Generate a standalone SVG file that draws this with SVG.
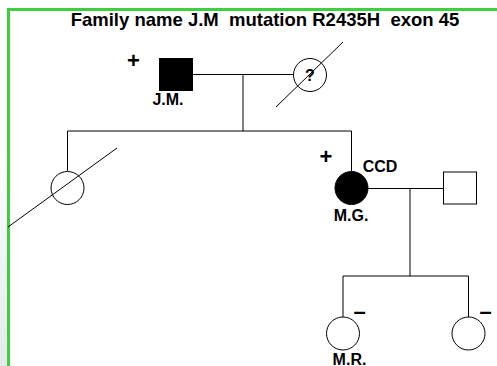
<svg xmlns="http://www.w3.org/2000/svg" width="497" height="366" viewBox="0 0 497 366">
<defs>
<style>
.t{font-family:"Liberation Sans",Arial,sans-serif;font-weight:bold;fill:#000}
.lb{font-size:16px}
.pl{font-size:22px}
.mi{font-size:22px}
.ln{stroke:#000;stroke-width:1;fill:none}
.sym{stroke:#000;stroke-width:1;fill:#fff}
.aff{stroke:#000;stroke-width:1;fill:#000}
</style>
<linearGradient id="g" x1="0" y1="0" x2="0" y2="1">
<stop offset="0" stop-color="#ffffff"/>
<stop offset="1" stop-color="#e6e8ec"/>
</linearGradient>
</defs>
<rect x="0" y="0" width="497" height="366" fill="#fff"/>
<rect x="0" y="150" width="7" height="216" fill="url(#g)"/>
<path d="M8.5,366 V9.5 H497" fill="none" stroke="#3ecf3e" stroke-width="3"/>
<text class="t" x="265" y="26" font-size="18.5" text-anchor="middle" xml:space="preserve">Family name J.M  mutation R2435H  exon 45</text>
<g id="connectors">
<line class="ln" x1="193" y1="74.5" x2="293" y2="74.5"/>
<line class="ln" x1="243" y1="74.5" x2="243" y2="131"/>
<line class="ln" x1="67.5" y1="131" x2="351.5" y2="131"/>
<line class="ln" x1="67.5" y1="131" x2="67.5" y2="171"/>
<line class="ln" x1="351.5" y1="131" x2="351.5" y2="171"/>
<line class="ln" x1="368" y1="188.5" x2="443" y2="188.5"/>
<line class="ln" x1="410" y1="188.5" x2="410" y2="276"/>
<line class="ln" x1="343" y1="276" x2="468.5" y2="276"/>
<line class="ln" x1="343" y1="276" x2="343" y2="317"/>
<line class="ln" x1="468.5" y1="276" x2="468.5" y2="317"/>
</g>
<g id="jm">
<rect class="aff" x="159.5" y="58.5" width="33" height="32"/>
<text class="t pl" x="133.5" y="68" text-anchor="middle">+</text>
<text class="t lb" x="168" y="105" text-anchor="middle">J.M.</text>
</g>
<g id="wife">
<circle class="sym" cx="310" cy="75" r="16.5"/>
<text class="t" x="310" y="81" font-size="16" text-anchor="middle">?</text>
<line class="ln" x1="276" y1="107" x2="343" y2="42"/>
</g>
<g id="daughter1">
<circle class="sym" cx="67.5" cy="188" r="16.5"/>
<line class="ln" x1="8" y1="227" x2="117" y2="148"/>
</g>
<g id="mg">
<circle class="aff" cx="351.5" cy="188" r="16.5"/>
<text class="t pl" x="326" y="164" text-anchor="middle">+</text>
<text class="t lb" x="380" y="172" text-anchor="middle">CCD</text>
<text class="t lb" x="351" y="221" text-anchor="middle">M.G.</text>
</g>
<g id="husband">
<rect class="sym" x="443.5" y="172" width="33" height="32"/>
</g>
<g id="mr">
<circle class="sym" cx="343" cy="333.5" r="16.5"/>
<text class="t mi" x="359.5" y="318.5" text-anchor="middle">–</text>
<text class="t lb" x="349.5" y="364.5" text-anchor="middle">M.R.</text>
</g>
<g id="daughter3">
<circle class="sym" cx="468.5" cy="333.5" r="16.5"/>
<text class="t mi" x="485.5" y="318.5" text-anchor="middle">–</text>
</g>
</svg>
